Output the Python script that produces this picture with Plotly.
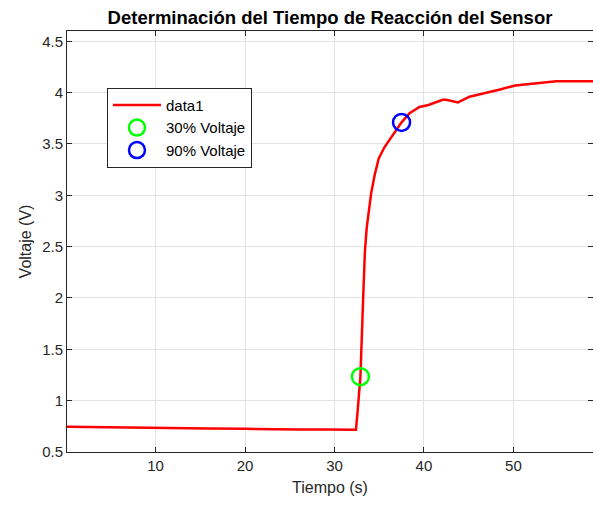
import plotly.graph_objects as go

# Sensor voltage readings over time (s, V)
tiempo = [0.1, 2.0, 5.0, 8.0, 10.0, 13.0, 16.0, 20.0, 23.0, 26.0, 29.0, 31.0, 32.4,
          32.6, 32.9, 33.2, 33.4, 33.6, 33.85, 34.1, 34.5, 34.95, 35.6, 36.35, 37.5,
          38.4, 39.5, 40.5, 41.4, 42.1, 42.5, 43.1, 43.8, 45.1, 46.6, 48.5, 50.2,
          52.2, 54.8, 58.9]
voltaje = [0.745, 0.744, 0.741, 0.738, 0.736, 0.733, 0.730, 0.726, 0.720, 0.719, 0.718, 0.717, 0.716,
           0.91, 1.233, 1.98, 2.45, 2.68, 2.86, 3.02, 3.20, 3.36, 3.47, 3.57, 3.71,
           3.80, 3.86, 3.88, 3.91, 3.93, 3.93, 3.92, 3.905, 3.96, 3.99, 4.03, 4.07,
           4.09, 4.11, 4.11]

# Marked points at 30% and 90% of the voltage step
t30, v30 = [32.9], [1.233]
t90, v90 = [37.5], [3.71]

FONT = "Liberation Sans, Arial"

fig = go.Figure()
fig.add_trace(go.Scatter(x=tiempo, y=voltaje, mode="lines", name="data1",
                         line=dict(color="#ff0000", width=2.5)))
fig.add_trace(go.Scatter(x=t30, y=v30, mode="markers", name="30% Voltaje",
                         marker=dict(symbol="circle-open", size=17, color="#00ff00",
                                     line=dict(width=2.5, color="#00ff00"))))
fig.add_trace(go.Scatter(x=t90, y=v90, mode="markers", name="90% Voltaje",
                         marker=dict(symbol="circle-open", size=17, color="#0000ff",
                                     line=dict(width=2.5, color="#0000ff"))))

axis_common = dict(showline=True, linecolor="#262626", linewidth=1, mirror="ticks",
                   ticks="inside", ticklen=5, tickcolor="#262626",
                   showgrid=True, gridcolor="#e3e3e3", gridwidth=1, zeroline=False,
                   tickfont=dict(family=FONT, size=15, color="#262626"))

fig.update_layout(
    width=593, height=506,
    margin=dict(l=67, r=0, t=31, b=54),
    paper_bgcolor="white", plot_bgcolor="white",
    title=dict(text="<b>Determinación del Tiempo de Reacción del Sensor</b>",
               x=(67 + 593) / 2 / 593, xanchor="center", y=0.966, yanchor="middle",
               font=dict(family=FONT, size=18.5, color="#000000")),
    xaxis=dict(range=[0.1, 58.9], tickvals=[10, 20, 30, 40, 50],
               title=dict(text="Tiempo (s)", standoff=8,
                          font=dict(family=FONT, size=16, color="#262626")),
               **axis_common),
    yaxis=dict(range=[0.5, 4.6], tickvals=[0.5, 1, 1.5, 2, 2.5, 3, 3.5, 4, 4.5],
               ticktext=["0.5", "1", "1.5", "2", "2.5", "3", "3.5", "4", "4.5"],
               title=dict(text="Voltaje (V)", standoff=6,
                          font=dict(family=FONT, size=16, color="#262626")),
               **axis_common),
    legend=dict(x=0.076, y=0.865, xanchor="left", yanchor="top",
                bgcolor="white", bordercolor="#262626", borderwidth=1,
                font=dict(family=FONT, size=15, color="#000000"),
                itemwidth=48, tracegroupgap=0),
    showlegend=True,
)

fig.write_html("out.html")
